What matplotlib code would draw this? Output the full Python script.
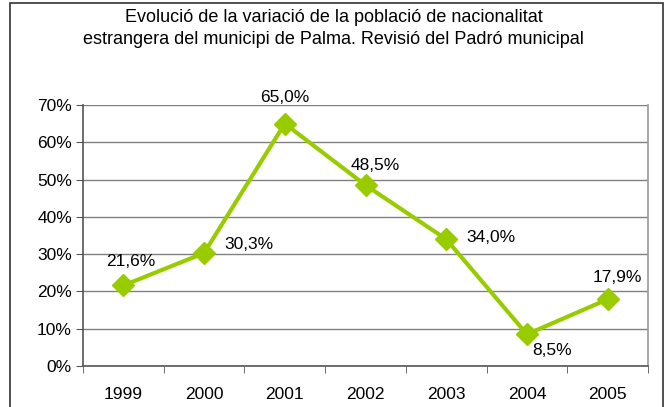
import matplotlib.pyplot as plt
import matplotlib.patches as mpatches
from matplotlib.ticker import FixedLocator

years = ['1999', '2000', '2001', '2002', '2003', '2004', '2005']
values = [21.6, 30.3, 65.0, 48.5, 34.0, 8.5, 17.9]
labels = ['21,6%', '30,3%', '65,0%', '48,5%', '34,0%', '8,5%', '17,9%']
# label offsets in points (dx, dy)
offsets = [(5, 17), (32, 6), (0, 19), (7, 14), (32, 1), (18, -12), (7, 16)]

plt.rcParams['font.family'] = ['Liberation Sans', 'DejaVu Sans']

fig = plt.figure(figsize=(6.67, 4.07), dpi=100)
fig.patch.set_facecolor('white')

# outer chart border
fig.patches.append(mpatches.Rectangle((10 / 667, -0.05), 653 / 667, 1.05 - 3 / 407,
                                      transform=fig.transFigure, fill=False,
                                      edgecolor='#333333', linewidth=1.2))

ax = fig.add_axes([83 / 667, 1 - 366 / 407, 565 / 667, 261 / 407])

x = list(range(len(years)))
ax.plot(x, values, color='#99CC00', linewidth=3, marker='D', markersize=11,
        markerfacecolor='#99CC00', markeredgecolor='#99CC00', zorder=3, clip_on=False)

for xi, v, lab, (dx, dy) in zip(x, values, labels, offsets):
    ax.annotate(lab, xy=(xi, v), xytext=(dx, dy), textcoords='offset points',
                ha='center', va='center', fontsize=12.5, color='black')

ax.set_xlim(-0.5, len(years) - 0.5)
ax.set_ylim(0, 70)
ax.set_yticks(range(0, 71, 10))
ax.set_yticklabels([f'{t}%' for t in range(0, 71, 10)], fontsize=12.5)
ax.set_xticks(x)
ax.set_xticklabels(years, fontsize=12.5)
ax.xaxis.set_minor_locator(FixedLocator([i - 0.5 for i in range(len(years) + 1)]))
ax.tick_params(axis='x', which='major', length=0, pad=15)
ax.tick_params(axis='x', which='minor', length=5, color='#555555')
ax.tick_params(axis='y', length=5, color='#555555', pad=3)

ax.grid(axis='y', color='#808080', linewidth=1)
ax.set_axisbelow(True)
ax.spines['top'].set_visible(False)
ax.spines['left'].set_color('#555555')
ax.spines['bottom'].set_color('#555555')
ax.spines['right'].set_color('#999999')
for s in ax.spines.values():
    s.set_linewidth(1.2)

fig.text(0.5, 1 - 18 / 407, "Evolució de la variació de la població de nacionalitat",
         ha='center', va='center', fontsize=13)
fig.text(0.5, 1 - 40 / 407, "estrangera del municipi de Palma. Revisió del Padró municipal",
         ha='center', va='center', fontsize=13)

fig.savefig('out.png', dpi=100, facecolor='white')
